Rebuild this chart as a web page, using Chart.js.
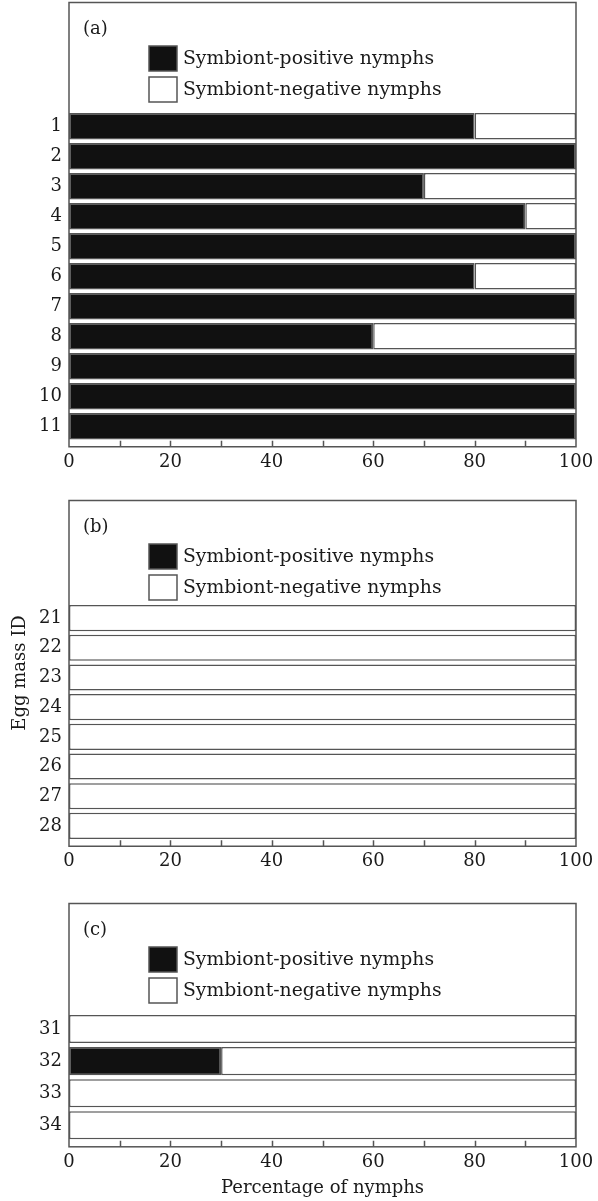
<!DOCTYPE html>
<html><head><meta charset="utf-8">
<script src="https://cdn.jsdelivr.net/npm/chart.js@4.4.1/dist/chart.umd.min.js"></script>
<style>
html,body{margin:0;padding:0;background:#fff;}
#wrap{position:relative;width:598px;height:1201px;overflow:hidden;background:#fff;}
canvas{position:absolute;left:0;}
</style></head><body>
<div id="wrap">
<canvas id="ca" width="598" height="480" style="top:0px"></canvas>
<canvas id="cb" width="598" height="385" style="top:490px"></canvas>
<canvas id="cc" width="598" height="311" style="top:890px"></canvas>
</div>
<script>
// ---- data ----
const seriesNames = ['Symbiont-positive nymphs', 'Symbiont-negative nymphs'];
const panelLabels = ['(a)', '(b)', '(c)'];
const xTickStep = 20;
const xMinorStep = 10;
const yAxisTitle = 'Egg mass ID';
const xAxisTitle = 'Percentage of nymphs';

const idsA = ['1','2','3','4','5','6','7','8','9','10','11'];
const posA = [80,100,70,90,100,80,100,60,100,100,100];
const negA = [20,0,30,10,0,20,0,40,0,0,0];

const idsB = ['21','22','23','24','25','26','27','28'];
const posB = [0,0,0,0,0,0,0,0];
const negB = [100,100,100,100,100,100,100,100];

const idsC = ['31','32','33','34'];
const posC = [0,30,0,0];
const negC = [100,70,100,100];

// ---- styling ----
const FONT = "'DejaVu Serif', 'Liberation Serif', serif";
const TXT = '#1a1a1a';
const EDGE = '#555';
Chart.defaults.font.family = FONT;
Chart.defaults.color = TXT;

const panelPlugin = {
  id: 'panelDeco',
  beforeDatasetsDraw(chart, args, o) {
    const ctx = chart.ctx, a = chart.chartArea;
    ctx.save();
    ctx.strokeStyle = EDGE; ctx.lineWidth = 1.5;
    const axisY = a.bottom + o.axisGap;
    ctx.strokeRect(a.left, o.frameTop, a.right - a.left, axisY - o.frameTop);
    // minor ticks pointing up from the axis line
    const xs = chart.scales.x;
    ctx.beginPath();
    for (let v = xs.min + xMinorStep; v < xs.max; v += xMinorStep) {
      const px = Math.round(xs.getPixelForValue(v)) + 0.5;
      ctx.moveTo(px, axisY); ctx.lineTo(px, axisY - 6);
    }
    ctx.stroke();
    // panel label
    ctx.fillStyle = TXT;
    ctx.font = '18px ' + FONT;
    ctx.textBaseline = 'middle'; ctx.textAlign = 'left';
    ctx.fillText(o.label, 83, o.frameTop + 27);
    // legend
    ctx.font = '18.8px ' + FONT;
    const ds = chart.data.datasets;
    const rows = [o.frameTop + 56, o.frameTop + 87];
    ds.forEach((d, i) => {
      const cy = rows[i];
      ctx.fillStyle = d.backgroundColor;
      ctx.fillRect(149, cy - 12.5, 28, 25);
      ctx.strokeStyle = EDGE; ctx.lineWidth = 1.5;
      ctx.strokeRect(149, cy - 12.5, 28, 25);
      ctx.fillStyle = TXT;
      ctx.fillText(d.label, 183, cy + 1);
    });
    if (o.yTitle) {
      ctx.save();
      ctx.font = '18px ' + FONT;
      ctx.translate(20, o.yTitleY);
      ctx.rotate(-Math.PI / 2);
      ctx.textAlign = 'center';
      ctx.fillText(o.yTitle, 0, 0);
      ctx.restore();
    }
    ctx.restore();
  }
};

function makePanel(id, ids, pos, neg, cfg) {
  new Chart(document.getElementById(id), {
    type: 'bar',
    data: {
      labels: ids,
      datasets: [
        { label: seriesNames[0], data: pos, backgroundColor: '#111111', borderColor: EDGE, borderWidth: 1.5, borderSkipped: false },
        { label: seriesNames[1], data: neg, backgroundColor: '#ffffff', borderColor: EDGE, borderWidth: 1.5, borderSkipped: false }
      ]
    },
    plugins: [panelPlugin],
    options: {
      indexAxis: 'y',
      responsive: false,
      animation: false,
      devicePixelRatio: 1,
      barPercentage: cfg.barPct,
      categoryPercentage: 1,
      layout: { padding: { top: cfg.chartTop, left: 0, right: 22, bottom: 0 } },
      plugins: {
        legend: { display: false },
        tooltip: { enabled: false },
        panelDeco: { frameTop: cfg.frameTop, axisGap: 5.5, label: cfg.label, yTitle: cfg.yTitle, yTitleY: cfg.yTitleY }
      },
      scales: {
        x: {
          stacked: true, min: 0, max: 100,
          grid: { display: false, drawTicks: false },
          border: { display: false },
          ticks: { stepSize: xTickStep, font: { size: 18 }, padding: 10, maxRotation: 0, autoSkip: false, color: TXT },
          title: { display: !!cfg.xTitle, text: cfg.xTitle || '', font: { size: 18 }, padding: { top: 0, bottom: 2 }, color: TXT },
          afterFit: s => { s.height = cfg.xHeight; s.paddingLeft = 0; s.paddingRight = 0; }
        },
        y: {
          stacked: true,
          grid: { display: false, drawTicks: false },
          border: { display: false },
          ticks: { font: { size: 18 }, padding: 7, color: TXT, autoSkip: false },
          afterFit: s => { s.width = 69; s.paddingTop = 0; s.paddingBottom = 0; }
        }
      }
    }
  });
}

makePanel('ca', idsA, posA, negA, { chartTop: 111.25, xHeight: 480 - 441.25, barPct: 0.883, frameTop: 2.5, label: panelLabels[0] });
makePanel('cb', idsB, posB, negB, { chartTop: 113.25, xHeight: 385 - 350.75, barPct: 0.88, frameTop: 10.5, label: panelLabels[1], yTitle: yAxisTitle, yTitleY: 183 });
makePanel('cc', idsC, posC, negC, { chartTop: 123, xHeight: 311 - 251.3, barPct: 0.875, frameTop: 13.5, label: panelLabels[2], xTitle: xAxisTitle });
</script>
</body></html>
